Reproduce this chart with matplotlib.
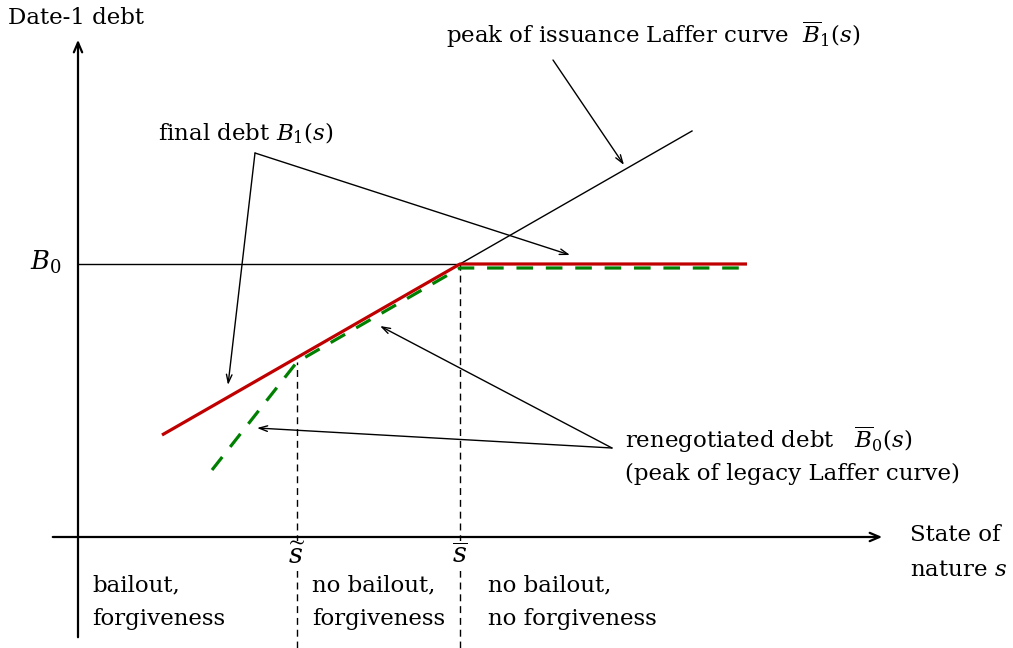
import matplotlib
matplotlib.use("Agg")
import matplotlib.pyplot as plt

plt.rcParams['font.family'] = ['DejaVu Serif']
plt.rcParams['mathtext.fontset'] = 'dejavuserif'

# ---- data (abstract units: 1 unit on each axis) ----
s_tilde = 2.19
s_bar = 3.82
s_end = 6.69
B0 = 2.73

final_s = [0.84, s_bar, s_end]
final_B = [1.02, B0, B0]

reneg_s = [1.34, s_tilde, s_bar, s_end]
reneg_B = [0.67, 1.75, 2.69, 2.69]

laffer_s = [s_bar, 6.14]
laffer_B = [B0, 4.06]

b0_line_s = [0.0, s_bar]
b0_line_B = [B0, B0]

FS = 16.5

fig = plt.figure(figsize=(10.13, 6.48), dpi=100)
ax = fig.add_axes([0, 0, 1, 1])
ax.set_xlim(-0.78, 9.35)
ax.set_ylim(-1.11, 5.37)
ax.axis('off')

# axes with arrows
ax.annotate('', xy=(0, 5.0), xytext=(0, -1.03),
            arrowprops=dict(arrowstyle='->,head_length=0.7,head_width=0.3', lw=1.6, color='black'))
ax.annotate('', xy=(8.07, 0), xytext=(-0.28, 0),
            arrowprops=dict(arrowstyle='->,head_length=0.7,head_width=0.3', lw=1.6, color='black'))

# B0 line
ax.plot(b0_line_s, b0_line_B, color='black', lw=1.0)
# issuance Laffer peak
ax.plot(laffer_s, laffer_B, color='black', lw=1.0)

# vertical dashed lines
for sv, top in [(s_tilde, 1.75), (s_bar, B0)]:
    ax.plot([sv, sv], [-1.11, top], color='black', lw=1.0, dashes=(5, 3.5))

# final debt (red) and renegotiated debt (green dashed)
ax.plot(final_s, final_B, color='#C00000', lw=2.3, solid_capstyle='butt', zorder=3)
ax.plot(reneg_s, reneg_B, color='#008000', lw=2.3, dashes=(5.2, 4.0), zorder=4)

# annotation arrows
arw = dict(arrowstyle='->,head_length=0.6,head_width=0.2', lw=1.0, color='black', shrinkA=0, shrinkB=0)
vx, vy = 1.77, 3.84
ax.annotate('', xy=(1.50, 1.52), xytext=(vx, vy), arrowprops=arw)
ax.annotate('', xy=(4.92, 2.82), xytext=(vx, vy), arrowprops=arw)

ax.annotate('', xy=(5.46, 3.72), xytext=(4.75, 4.77), arrowprops=arw)

rx, ry = 5.34, 0.89
ax.annotate('', xy=(3.02, 2.11), xytext=(rx, ry), arrowprops=arw)
ax.annotate('', xy=(1.79, 1.09), xytext=(rx, ry), arrowprops=arw)

# texts
ax.text(-0.70, 5.19, 'Date-1 debt', fontsize=FS, va='center', ha='left')
ax.text(3.68, 5.02, r'peak of issuance Laffer curve  $\overline{B}_1(s)$', fontsize=FS, va='center', ha='left')
ax.text(0.80, 4.04, r'final debt $B_1(s)$', fontsize=FS, va='center', ha='left')
ax.text(-0.16, 2.75, r'$B_0$', fontsize=FS + 2, va='center', ha='right')
ax.text(5.47, 0.97, r'renegotiated debt   $\overline{B}_0(s)$', fontsize=FS, va='center', ha='left')
ax.text(5.47, 0.63, '(peak of legacy Laffer curve)', fontsize=FS, va='center', ha='left')
ax.text(8.32, 0.02, 'State of', fontsize=FS, va='center', ha='left')
ax.text(8.32, -0.33, r'nature $s$', fontsize=FS, va='center', ha='left')
lbl_box = dict(boxstyle='square,pad=0.05', fc='white', ec='none')
ax.text(s_tilde, -0.19, r'$\widetilde{s}$', fontsize=FS + 3, va='center', ha='center', bbox=lbl_box, zorder=5)
ax.text(s_bar, -0.19, r'$\overline{s}$', fontsize=FS + 3, va='center', ha='center', bbox=lbl_box, zorder=5)

ax.text(0.14, -0.48, 'bailout,', fontsize=FS, va='center', ha='left')
ax.text(0.14, -0.82, 'forgiveness', fontsize=FS, va='center', ha='left')
ax.text(2.34, -0.48, 'no bailout,', fontsize=FS, va='center', ha='left')
ax.text(2.34, -0.82, 'forgiveness', fontsize=FS, va='center', ha='left')
ax.text(4.10, -0.48, 'no bailout,', fontsize=FS, va='center', ha='left')
ax.text(4.10, -0.82, 'no forgiveness', fontsize=FS, va='center', ha='left')

fig.savefig('out.png', dpi=100)
